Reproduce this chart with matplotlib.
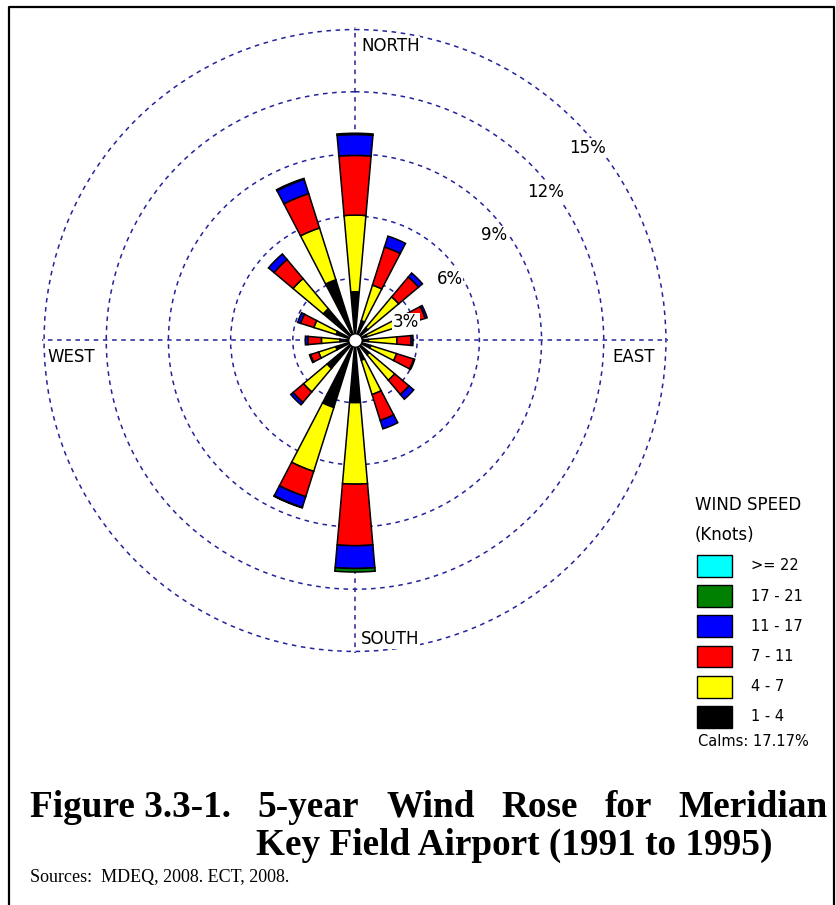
import numpy as np
import matplotlib
matplotlib.use("Agg")
import matplotlib.pyplot as plt
from matplotlib.patches import Rectangle
from matplotlib.lines import Line2D

# ---------------- data ----------------
directions = ["N", "NNE", "NE", "ENE", "E", "ESE", "SE", "SSE",
              "S", "SSW", "SW", "WSW", "W", "WNW", "NW", "NNW"]
direction_deg = [0, 22.5, 45, 67.5, 90, 112.5, 135, 157.5,
                 180, 202.5, 225, 247.5, 270, 292.5, 315, 337.5]

speed_bins = ["1 - 4", "4 - 7", "7 - 11", "11 - 17", "17 - 21", ">= 22"]
bin_colors = ["#000000", "#FFFF00", "#FF0000", "#0000FF", "#008000", "#00FFFF"]

# frequency (%) per direction for each speed class
freq_1_4 = [2.35, 1.00, 0.80, 0.60, 0.65, 0.80, 0.90, 1.00, 3.00, 3.39, 1.76, 0.97, 0.73, 0.95, 2.00, 3.07]
freq_4_7 = [3.70, 1.80, 1.95, 2.00, 1.37, 1.30, 1.60, 1.73, 3.93, 3.23, 1.48, 0.87, 0.89, 1.13, 1.90, 2.62]
freq_7_11 = [2.88, 1.93, 1.25, 0.95, 0.68, 0.87, 0.90, 1.31, 2.97, 1.28, 0.66, 0.41, 0.65, 0.67, 1.20, 1.74]
freq_11_17 = [1.01, 0.55, 0.25, 0.10, 0.10, 0.05, 0.30, 0.43, 1.10, 0.54, 0.15, 0.05, 0.13, 0.15, 0.35, 0.72]
freq_17_21 = [0.06, 0.00, 0.00, 0.00, 0.00, 0.00, 0.00, 0.00, 0.17, 0.03, 0.00, 0.00, 0.00, 0.00, 0.00, 0.05]
freq_22_up = [0.0] * 16

calms = 17.17
ring_ticks = [3, 6, 9, 12, 15]
compass_labels = ["NORTH", "EAST", "SOUTH", "WEST"]

title_line1 = ["Figure 3.3-1.", "5-year", "Wind", "Rose", "for", "Meridian"]
title_line2 = "Key Field Airport (1991 to 1995)"
source_text = "Sources:  MDEQ, 2008. ECT, 2008."

# ---------------- figure ----------------
W, H = 837, 905
fig = plt.figure(figsize=(W / 100, H / 100), dpi=100)
fig.patch.set_facecolor("white")


def fx(x):
    return x / W


def fy(y):
    return 1 - y / H


cx, cy, rad = 355, 340.5, 313
ax = fig.add_axes([fx(cx - rad), fy(cy + rad), 2 * rad / W, 2 * rad / H], projection="polar")
ax.set_theta_zero_location("N")
ax.set_theta_direction(-1)
ax.set_ylim(0, 15.1)
ax.set_yticks(ring_ticks)
ax.set_yticklabels([])
ax.set_xticks(np.radians([0, 90, 180, 270]))
ax.set_xticklabels([])
ax.tick_params(length=0)
grid_color = "#23239a"
ax.grid(True, color=grid_color, linestyle=(0, (3, 3)), linewidth=1.1)
ax.spines["polar"].set_visible(False)
ax.set_axisbelow(True)

theta = np.radians(direction_deg)
width = np.radians(10.0)
series = [freq_1_4, freq_4_7, freq_7_11, freq_11_17, freq_17_21, freq_22_up]
bottom = np.zeros(len(directions))
for vals, col in zip(series, bin_colors):
    vals = np.asarray(vals, dtype=float)
    m = vals > 0
    if m.any():
        ax.bar(theta[m], vals[m], width=width, bottom=bottom[m], color=col,
               edgecolor="black", linewidth=1.1, zorder=3)
    bottom = bottom + vals

# calm circle at centre
ax.scatter([0], [0], s=90, facecolor="white", edgecolor="black", linewidth=0.8, zorder=4)

# ring labels
label_theta = [70.6, 57.0, 52.9, 52.0, 50.3]
label_r = [2.62, 5.44, 8.40, 11.64, 14.56]
for t, r, v in zip(label_theta, label_r, ring_ticks):
    ax.text(np.radians(t), r, f"{v}%", ha="center", va="center", fontsize=12,
            color="black", zorder=6,
            bbox=dict(facecolor="white", edgecolor="none", pad=0.5))

# compass labels
compass_pos = {"NORTH": (361, 46), "EAST": (612, 357), "SOUTH": (361, 639), "WEST": (47, 357)}
for lab in compass_labels:
    x, y = compass_pos[lab]
    fig.text(fx(x), fy(y), lab, ha="left", va="center", fontsize=12, zorder=6,
             bbox=dict(facecolor="white", edgecolor="none", pad=0.5))

# legend
fig.text(fx(695), fy(505), "WIND SPEED", ha="left", va="center", fontsize=12)
fig.text(fx(695), fy(535), "(Knots)", ha="left", va="center", fontsize=12)
for i, (lab, col) in enumerate(zip(speed_bins[::-1], bin_colors[::-1])):
    y0 = 555 + i * 30.2
    fig.add_artist(Rectangle((fx(696.7), fy(y0 + 21.7)), 35.6 / W, 21.7 / H,
                             transform=fig.transFigure, facecolor=col,
                             edgecolor="black", linewidth=1.0))
    fig.text(fx(750.7), fy(y0 + 10.85), lab, ha="left", va="center", fontsize=10.5)
fig.text(fx(698), fy(742), f"Calms: {calms:.2f}%", ha="left", va="center", fontsize=10.5)

# border
fig.add_artist(Line2D([fx(9.3), fx(9.3), fx(834), fx(834)], [0, fy(7), fy(7), 0],
                      transform=fig.transFigure, color="black", linewidth=1.6))

# caption (first line justified between x=30 and x=828)
tfont = dict(family="Liberation Serif", weight="bold", fontsize=26.8)
renderer = fig.canvas.get_renderer()
texts = [fig.text(0, fy(816.7), w, ha="left", va="baseline", **tfont) for w in title_line1]
widths = [t.get_window_extent(renderer).width for t in texts]
x_left, x_right = 30, 828
gap = (x_right - x_left - sum(widths)) / (len(texts) - 1)
x = x_left
for t, w in zip(texts, widths):
    t.set_x(fx(x))
    x += w + gap
fig.text(fx(256), fy(855), title_line2, ha="left", va="baseline", **tfont)
fig.text(fx(30), fy(881.7), source_text, ha="left", va="baseline",
         family="Liberation Serif", fontsize=13)

fig.savefig("out.png", dpi=100, facecolor="white")
